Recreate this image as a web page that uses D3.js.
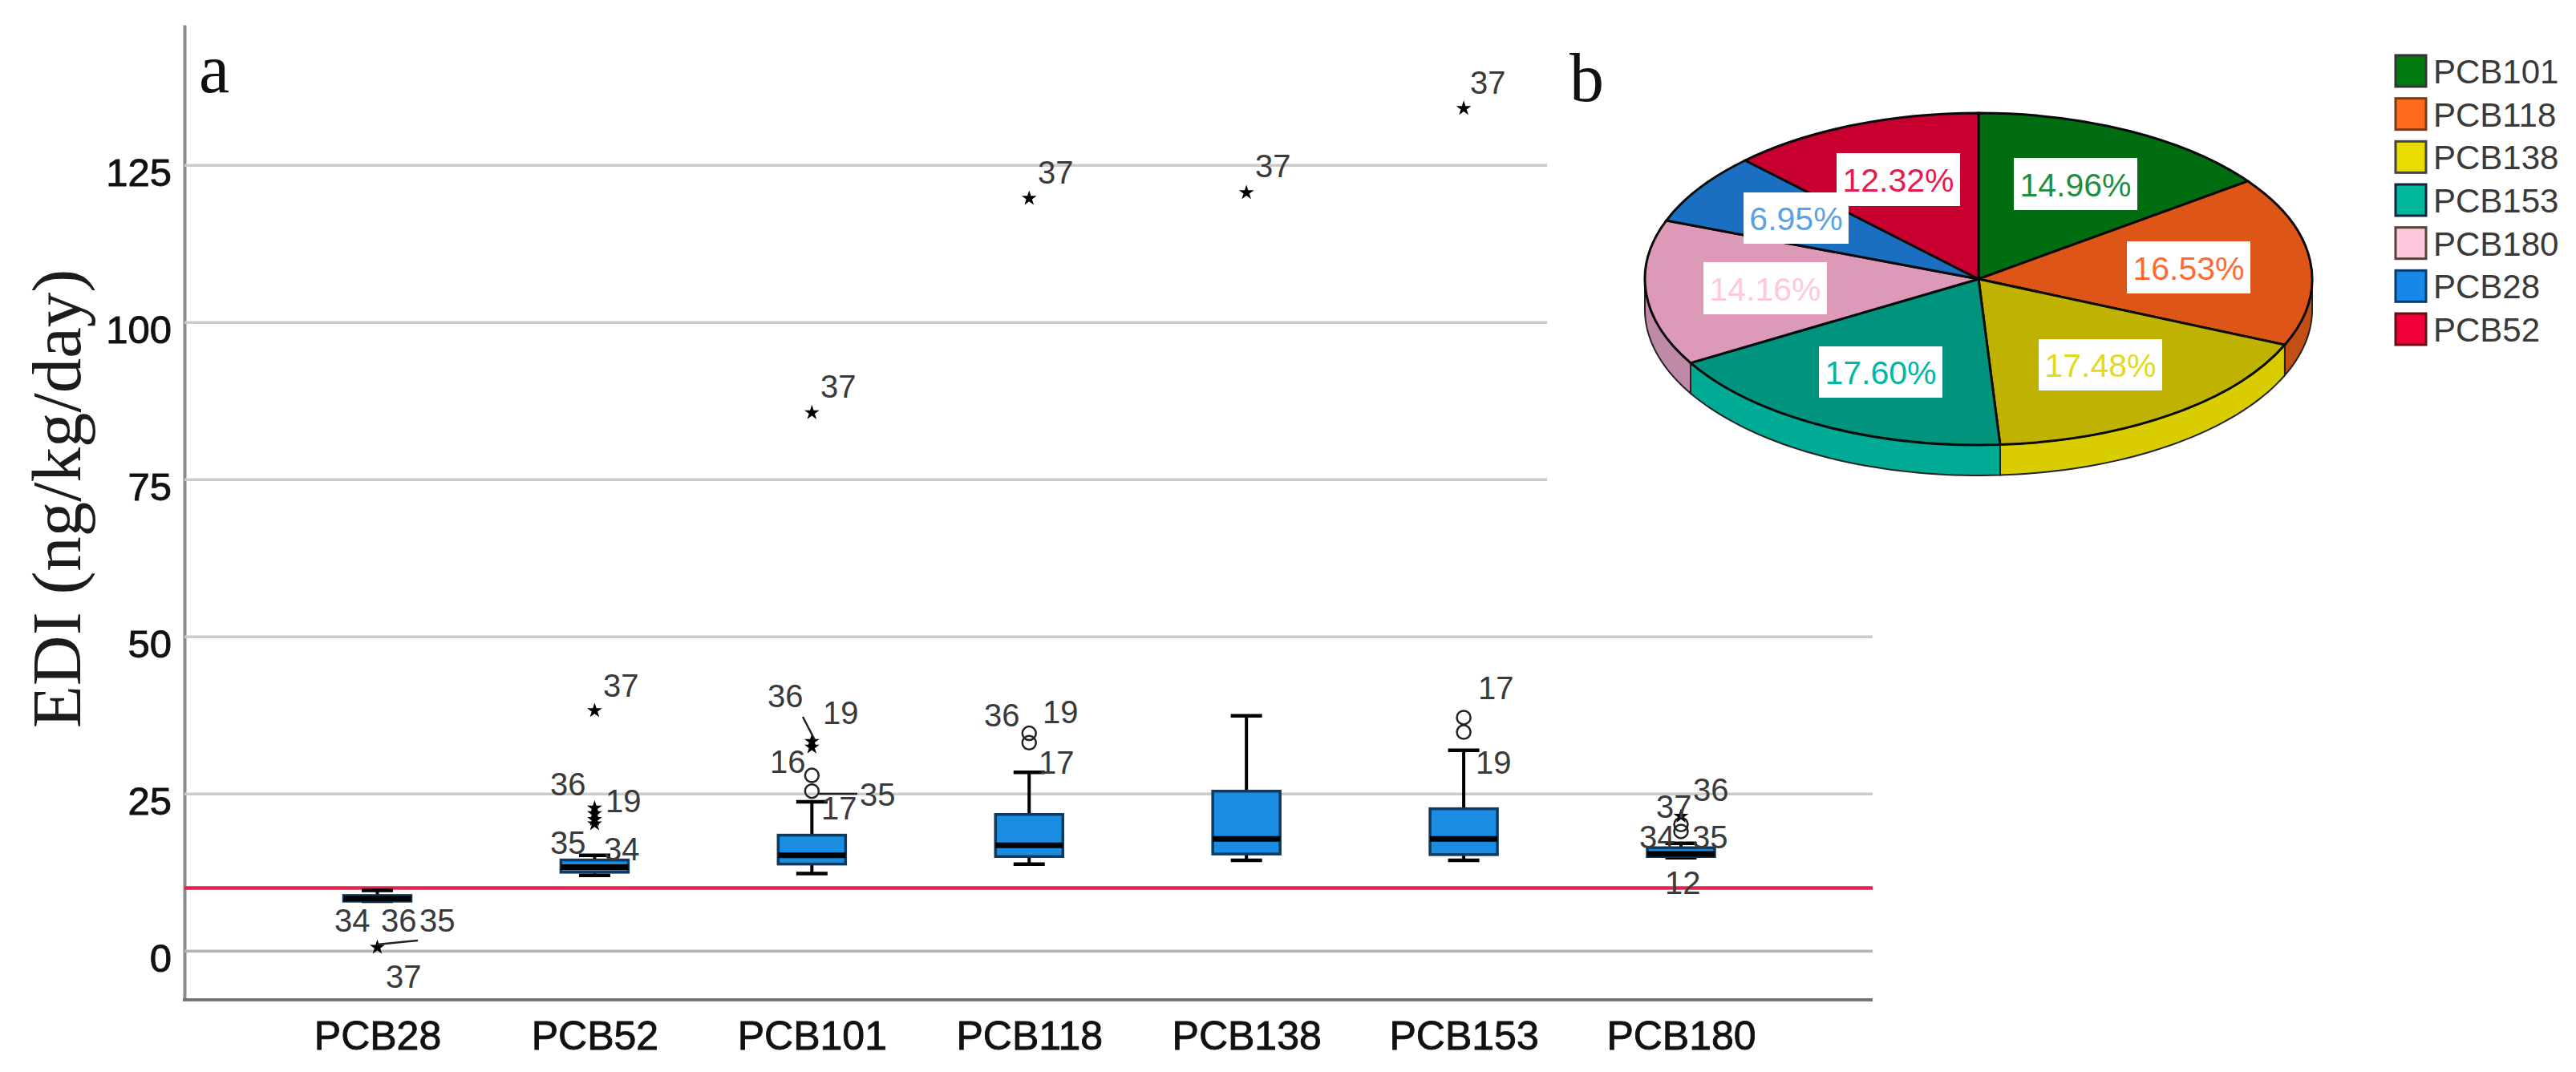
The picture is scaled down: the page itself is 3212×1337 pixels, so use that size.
<!DOCTYPE html>
<html><head><meta charset="utf-8">
<script src="https://cdnjs.cloudflare.com/ajax/libs/d3/7.8.5/d3.min.js"></script>
<style>html,body{margin:0;padding:0;background:#fff}svg{display:block}</style>
</head><body><svg id="c" width="3212" height="1337"></svg>
<script>
// ---- data ----
const categories = ["PCB28","PCB52","PCB101","PCB118","PCB138","PCB153","PCB180"];
const whiskerLow  = [7.9,12.0,12.3,13.8,14.4,14.4,14.8];
const q1          = [7.9,12.5,13.8,15.0,15.4,15.3,15.0];
const median      = [8.3,13.3,15.2,16.8,17.8,17.8,15.4];
const q3          = [8.8,14.45,18.4,21.7,25.4,22.6,16.4];
const whiskerHigh = [9.6,15.2,23.7,28.4,37.4,31.9,17.1];
const extremes = [[0.55],[38.2,22.7,21.8,20.9,20.2],[85.6,33.3,32.4],[119.7],[120.6],[134],[21.4]];
const outliers = [[],[],[27.9,25.4],[34.6,33.1],[],[37.1,34.8],[20.1,19]];
const yTicks = [0,25,50,75,100,125];
const pointLabels = ["34","36","35","37","37","36","19","35","34","37","36","19","16","17","35","37","36","19","17","37","37","17","19","36","37","34","35","12"];
const pieNames = ["PCB101","PCB118","PCB138","PCB153","PCB180","PCB28","PCB52"];
const pieShares = [14.96,16.53,17.48,17.60,14.16,6.95,12.32];
const limitValue = 10;

// ---- layout & style ----
const labelPos = [[417,1162],[475,1162],[523,1162],[481,1232],[752,869],[686,992],[755,1013],[686,1065],[753,1073],
 [1023,496],[957,882],[1026,903],[960,964],[1024,1022],[1072,1005],[1294,229],[1227,906],[1300,902],[1295,965],
 [1565,221],[1833,117],[1843,872],[1840,965],[2111,999],[2065,1020],[2044,1058],[2110,1058],[2076,1115]];
const leaders = [[470,1178,521,1173],[1001,894,1016,923],[1020,990,1069,990]];
const topCols  = ["#006d10","#de5518","#bfb200","#00937d","#dc9ab8","#1a6fc0","#c80030"];
const sideCols = ["#006d10","#c44f14","#d9cd00","#00ab96","#bf8aa8","#1a6fc0","#c80030"];
const legCols  = ["#007a10","#ff6a1a","#e8dc00","#00b89a","#ffc6e0","#1888e8","#f00038"];
const legEdge  = ["#333","#7a3a18","#444","#124","#543","#0a3a70","#611"];
const txtCols  = ["#1f8f3e","#ff6a30","#e2da20","#00b8a0","#ffc8dc","#5ca2e2","#e81850"];
const pieBoxes = [[2511,197,154,65],[2652,301,154,65],[2542,423,154,64],[2268,432,154,64],[2124,327,154,65],[2174,240,131,64],[2290,191,154,66]];
const sans = "'Liberation Sans',Arial,sans-serif", serif = "'Liberation Serif','Times New Roman',serif";

const svg = d3.select("#c");
const axisX = 230, rightX = 2335;
const y = d3.scaleLinear().domain([-7.8,147.3]).range([1247,31]);
const x = d3.scalePoint().domain(categories).range([470.5,2096]);

// y axis + grid
const gy = svg.append("g").attr("transform",`translate(${axisX},0)`)
  .call(d3.axisLeft(y).tickValues(yTicks).tickSizeInner(-(rightX-axisX)).tickSizeOuter(0).tickPadding(16).tickFormat(d3.format("d")));
gy.selectAll(".tick line").attr("stroke",d=>d===0?"#b4b4b4":"#cbcbcb").attr("stroke-width",3.5);
gy.select(".domain").attr("stroke","#8a8a8a").attr("stroke-width",4);
gy.selectAll("text").attr("font-family",sans).attr("font-size",49).attr("fill","#111").attr("stroke","#111").attr("stroke-width",0.9).attr("dy",".52em");

// panel cover for the pie (upper gridlines stop at its edge)
svg.append("rect").attr("x",1929).attr("y",20).attr("width",1283).attr("height",680).attr("fill","#fff");

// x axis
const gx = svg.append("g").attr("transform",`translate(0,${y.range()[0]})`)
  .call(d3.axisBottom(x).tickSize(0).tickPadding(26));
gx.select(".domain").attr("d",`M${axisX-2},0H${rightX}`).attr("stroke","#777").attr("stroke-width",4);
gx.selectAll("text").attr("font-family",sans).attr("font-size",50).attr("fill","#111").attr("stroke","#111").attr("stroke-width",0.9);

// limit line
svg.append("line").attr("x1",axisX).attr("x2",rightX).attr("y1",y(limitValue)).attr("y2",y(limitValue)).attr("stroke","#e4204c").attr("stroke-width",4.5);

// boxes
const boxW = 84, capW = 39;
const boxes = svg.append("g").selectAll("g").data(categories).join("g").attr("transform",d=>`translate(${x(d)},0)`);
boxes.append("line").attr("y1",(d,i)=>y(whiskerLow[i])).attr("y2",(d,i)=>y(whiskerHigh[i])).attr("stroke","#000").attr("stroke-width",4);
[whiskerLow,whiskerHigh].forEach(arr=>{
  boxes.append("line").attr("x1",-capW/2).attr("x2",capW/2).attr("y1",(d,i)=>y(arr[i])).attr("y2",(d,i)=>y(arr[i])).attr("stroke","#000").attr("stroke-width",4.5);
});
boxes.append("rect").attr("x",-boxW/2).attr("width",boxW).attr("y",(d,i)=>y(q3[i])).attr("height",(d,i)=>y(q1[i])-y(q3[i]))
  .attr("fill","#1a8ce2").attr("stroke","#0e3a60").attr("stroke-width",3.5);
boxes.append("line").attr("x1",-boxW/2).attr("x2",boxW/2).attr("y1",(d,i)=>y(median[i])).attr("y2",(d,i)=>y(median[i])).attr("stroke","#000").attr("stroke-width",7);

// outliers
const star = d3.symbol().type(d3.symbolStar).size(110)();
boxes.each(function(d,i){
  const g = d3.select(this);
  g.selectAll("circle").data(outliers[i]).join("circle").attr("cy",v=>y(v)).attr("r",8.5).attr("fill","none").attr("stroke","#222").attr("stroke-width",2.5);
  g.selectAll("path.s").data(extremes[i]).join("path").attr("class","s").attr("d",star).attr("transform",v=>`translate(0,${y(v)})`).attr("fill","#000");
});
svg.append("g").selectAll("line").data(leaders).join("line")
  .attr("x1",d=>d[0]).attr("y1",d=>d[1]).attr("x2",d=>d[2]).attr("y2",d=>d[3]).attr("stroke","#222").attr("stroke-width",2.5);
svg.append("g").selectAll("text").data(pointLabels).join("text")
  .attr("x",(d,i)=>labelPos[i][0]).attr("y",(d,i)=>labelPos[i][1]).text(d=>d)
  .attr("font-family",sans).attr("font-size",40).attr("fill","#3a3a3a");

// titles
svg.append("text").attr("transform","translate(100,622) rotate(-90)").attr("text-anchor","middle")
  .attr("font-family",serif).attr("font-size",87).attr("fill","#1c1c1c").text("EDI (ng/kg/day)");
svg.append("text").attr("x",248).attr("y",115).attr("font-family",serif).attr("font-size",86).attr("fill","#111").text("a");
svg.append("text").attr("x",1957).attr("y",126).attr("font-family",serif).attr("font-size",86).attr("fill","#111").text("b");

// pie
const cx=2467, cy=348, rx=416, ry=207, depth=38;
const arcs = d3.pie().sort(null)(pieShares);
const pt = (a,dy)=>[cx+rx*Math.sin(a), cy-ry*Math.cos(a)+dy];
const lineGen = d3.line();
const pieG = svg.append("g");
arcs.forEach((a,i)=>{
  const s=Math.max(a.startAngle,Math.PI/2), e=Math.min(a.endAngle,Math.PI*1.5);
  if(e<=s) return;
  const steps=d3.range(0,41).map(k=>s+(e-s)*k/40);
  const pts=steps.map(t=>pt(t,0)).concat(steps.slice().reverse().map(t=>pt(t,depth)));
  pieG.append("path").attr("d",lineGen(pts)+"Z").attr("fill",sideCols[i]).attr("stroke","#222").attr("stroke-width",2);
});
const arc = d3.arc().innerRadius(0).outerRadius(rx);
pieG.append("g").attr("transform",`translate(${cx},${cy}) scale(1,${ry/rx})`)
  .selectAll("path").data(arcs).join("path").attr("d",arc).attr("fill",(d,i)=>topCols[i])
  .attr("stroke","#0a0a0a").attr("stroke-width",3).attr("vector-effect","non-scaling-stroke");
svg.append("g").selectAll("rect").data(pieShares).join("rect")
  .attr("x",(d,i)=>pieBoxes[i][0]).attr("y",(d,i)=>pieBoxes[i][1]).attr("width",(d,i)=>pieBoxes[i][2]).attr("height",(d,i)=>pieBoxes[i][3]).attr("fill","#fff");
svg.append("g").selectAll("text").data(pieShares).join("text")
  .attr("x",(d,i)=>pieBoxes[i][0]+pieBoxes[i][2]/2).attr("y",(d,i)=>pieBoxes[i][1]+pieBoxes[i][3]/2+15)
  .attr("text-anchor","middle").attr("font-family",sans).attr("font-size",41).attr("fill",(d,i)=>txtCols[i])
  .text(d=>d.toFixed(2)+"%");

// legend
const legY = d3.scalePoint().domain(pieNames).range([68,390]);
const leg = svg.append("g").selectAll("g").data(pieNames).join("g").attr("transform",d=>`translate(2986,${legY(d)})`);
leg.append("rect").attr("x",1).attr("y",1).attr("width",38).attr("height",39).attr("fill",(d,i)=>legCols[i]).attr("stroke",(d,i)=>legEdge[i]).attr("stroke-width",3);
leg.append("text").attr("x",48).attr("y",36).attr("font-family",sans).attr("font-size",42).attr("fill","#3a3a3a").text(d=>d);
</script></body></html>
